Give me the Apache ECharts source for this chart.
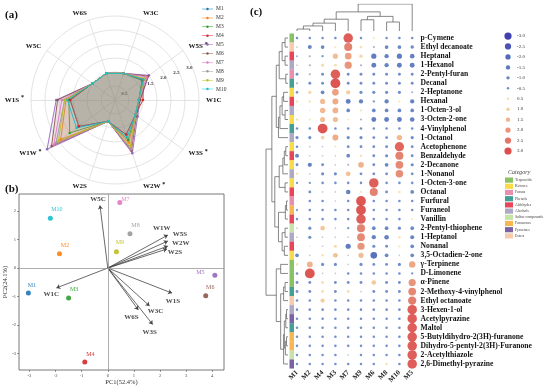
<!DOCTYPE html>
<html><head><meta charset="utf-8">
<script src="https://cdn.jsdelivr.net/npm/echarts@6/dist/echarts.min.js"></script>
<style>html,body{margin:0;padding:0;background:#fff}#c{width:550px;height:390px}</style>
</head><body><div id="c"></div>
<script>
// ---------------- DATA ----------------
const samples = ['M1','M2','M3','M4','M5','M6','M7','M8','M9','M10'];
const sampleColors = ['#1f77b4','#ff7f0e','#2ca02c','#d62728','#9467bd','#8c564b','#e377c2','#9a9a9a','#bcbd22','#17becf'];

// (a) radar
const radarIndicators = ['W1C','W5S','W3C','W6S','W5C','W1S','W1W','W2S','W2W','W3S'];
const radarSignif = [false,true,false,false,false,true,true,false,true,true];
const rM1  = [0.85,1.20,1.0,1.0,1.0,1.60,1.6,0.8,1.30,0.90];
const rM2  = [0.85,1.25,1.0,1.0,1.0,1.75,2.4,0.8,1.60,0.90];
const rM3  = [0.85,1.20,1.0,1.0,1.0,1.65,2.0,0.8,1.50,0.90];
const rM4  = [1.00,1.25,1.0,1.0,1.0,1.60,1.6,0.8,1.30,0.90];
const rM5  = [0.90,1.50,1.0,1.0,1.0,2.10,3.0,0.8,2.00,1.00];
const rM6  = [0.90,1.45,1.0,1.0,1.0,2.05,2.8,0.8,1.90,0.95];
const rM7  = [0.85,1.40,1.0,1.0,1.0,1.90,2.7,0.8,1.85,0.90];
const rM8  = [0.85,1.30,1.0,1.0,1.0,1.80,2.6,0.8,1.80,0.90];
const rM9  = [0.85,1.30,1.0,1.0,1.0,1.80,2.5,0.8,1.75,0.90];
const rM10 = [0.85,1.25,1.0,1.0,1.0,1.70,1.7,0.8,1.40,0.90];
const radarTicks = [0.5,1.5,2.0,2.5,3.0];

// (b) PCA biplot
const pc1Scores = [-3.04,-1.85,-1.50,-0.88,4.10,3.75,0.46,0.85,0.33,-2.20];
const pc2Scores = [-0.88, 0.50,-1.05,-3.30,-0.25,-0.97,2.30,1.20,0.57,1.75];
const loadNames = ['W1C','W1S','W1W','W2S','W2W','W3C','W3S','W5C','W5S','W6S'];
const loadPC1 = [-1.97, 2.46, 2.30, 2.27, 2.30, 1.60, 1.72,-0.30, 2.30, 1.17];
const loadPC2 = [-0.70,-0.88, 1.16, 0.67, 0.77,-1.33,-1.98, 2.20, 0.95,-1.47];

// (c) bubble heatmap
const heatCols = ['M1','M2','M4','M3','M7','M9','M6','M8','M10','M5'];
const compounds = ['p-Cymene','Ethyl decanoate','Heptanal','1-Hexanol','2-Pentyl-furan','Decanal','2-Heptanone','Hexanal','1-Octen-3-ol','3-Octen-2-one','4-Vinylphenol','1-Octanol','Acetophenone','Benzaldehyde','2-Decanone','1-Nonanol','1-Octen-3-one','Octanal','Furfural','Furaneol','Vanillin','2-Pentyl-thiophene','1-Heptanol','Nonanal','3,5-Octadien-2-one','γ-Terpinene','D-Limonene','α-Pinene','2-Methoxy-4-vinylphenol','Ethyl octanoate','3-Hexen-1-ol','Acetylpyrazine','Maltol','5-Butyldihydro-2(3H)-furanone','Dihydro-5-pentyl-2(3H)-Furanone','2-Acetylthiazole','2,6-Dimethyl-pyrazine'];
const compoundCat = ['Terpenoids','Esters','Aldehydes','Alcohols','Furans','Phenols','Ketones','Aldehydes','Alcohols','Ketones','Phenols','Alcohols','Ketones','Aldehydes','Ketones','Alcohols','Ketones','Aldehydes','Furans','Furanones','Aldehydes','Sulfur compounds','Alcohols','Aldehydes','Ketones','Terpenoids','Terpenoids','Terpenoids','Phenols','Esters','Alcohols','Pyrazines','Phenols','Furanones','Furanones','Sulfur compounds','Pyrazines'];
const zRows = [
 [-0.4,-0.4,-0.4,-0.4, 2.8,-0.4, 0.3,-0.4,-0.4,-0.4],
 [-0.1,-0.9,-0.8, 0.3, 2.3, 0.5,-0.2,-0.8,-0.8,-0.7],
 [-0.2,-0.2,-0.3, 1.3, 1.8, 0.7,-1.3,-1.0,-1.3,-1.1],
 [-0.1,-0.2, 0.6, 0.5, 2.0,-0.2,-1.2,-1.0,-1.2,-1.2],
 [-0.5,-0.2,-0.5, 2.8,-0.5,-0.5,-0.5,-0.5,-0.5,-0.5],
 [-0.2,-0.5,-0.5, 2.9,-0.5,-0.5,-0.5,-0.5,-0.5,-0.5],
 [-0.4, 0.7,-0.8, 1.8, 1.0,-0.6,-0.6,-0.6,-0.6,-0.2],
 [ 0.4, 0.4, 1.3, 1.6,-1.2,-1.0,-0.3,-1.0, 0.3,-1.0],
 [ 0.0, 0.0, 1.4, 1.5,-0.8, 0.3,-0.8,-0.8,-0.8,-0.8],
 [ 0.4, 0.3, 1.3, 1.3, 0.2,-0.2,-1.2,-1.2,-1.2,-1.1],
 [-0.4,-0.4, 2.9,-0.4,-0.4,-0.4,-0.4,-0.4,-0.4,-0.4],
 [-0.6,-0.6, 0.8, 1.6,-0.6,-0.6,-0.5,-0.5, 1.4,-0.6],
 [-0.4,-0.1,-0.1, 0.3,-0.5,-0.5,-0.5,-0.5, 2.7,-0.5],
 [-0.9,-0.1,-0.1,-0.1,-0.8, 0.4,-0.5,-0.6, 2.3,-0.5],
 [-0.5,-1.0,-0.5,-0.1,-0.2, 1.5,-0.5,-0.8, 2.2,-0.6],
 [ 0.4,-0.1,-0.6,-0.6, 1.2,-0.5,-0.5,-0.5, 2.1,-0.5],
 [-0.3,-0.3,-0.4,-0.4,-0.4,-0.4, 2.8,-0.4,-0.4,-0.4],
 [ 0.0,-0.5,-0.1,-0.1,-1.1, 0.3, 2.3,-0.5, 0.4,-0.8],
 [ 0.0,-0.4,-0.4,-0.1,-0.4, 2.9,-0.4,-0.4,-0.4,-0.4],
 [-0.3,-0.4,-0.4,-0.4,-0.4, 2.9,-0.4,-0.4,-0.4,-0.4],
 [-0.4,-0.4,-0.4,-0.4,-0.4, 2.8,-0.4,-0.4,-0.4, 0.3],
 [-0.1,-0.6, 1.1,-0.1,-0.3, 2.3,-0.8,-0.8,-0.6,-0.8],
 [-0.1,-0.6,-0.1,-0.1,-0.1, 2.2,-1.0,-1.1, 0.4,-0.9],
 [ 0.0, 0.0,-0.1, 0.6,-1.3, 2.0,-0.6,-0.5, 0.3,-0.8],
 [-0.8,-0.1, 0.4, 1.2,-0.1, 1.3,-1.8,-0.8,-0.1,-0.8],
 [ 0.4, 1.5,-0.6,-0.6,-0.1,-0.6,-0.5,-0.5,-0.6, 1.7],
 [-0.4, 2.9,-0.1,-0.1,-0.4,-0.4,-0.4,-0.4,-0.4,-0.3],
 [-0.5,-0.5, 0.5,-0.5,-0.5,-0.5, 1.1,-0.5,-0.5, 2.0],
 [-0.5,-0.5, 0.5,-0.5, 0.5,-0.1,-0.5,-0.5,-0.5, 2.2],
 [-0.4,-0.4, 1.0,-0.4,-0.4,-0.4,-0.4,-0.4,-0.4, 2.4],
 [-0.4,-0.4,-0.4,-0.4,-0.4,-0.4,-0.4,-0.4,-0.4, 2.8],
 [-0.4,-0.4,-0.4,-0.4,-0.4,-0.4,-0.4,-0.4,-0.4, 2.8],
 [-0.4,-0.4,-0.4,-0.4,-0.4,-0.4,-0.4,-0.4,-0.4, 2.8],
 [-0.4,-0.4,-0.4,-0.4,-0.4,-0.4,-0.4,-0.4,-0.4, 2.8],
 [-0.4,-0.4,-0.4,-0.4,-0.4,-0.4,-0.4,-0.4,-0.4, 2.8],
 [-0.4,-0.4,-0.4,-0.4,-0.1,-0.4,-0.4,-0.4,-0.4, 2.8],
 [-0.4,-0.4,-0.4,-0.4,-0.4,-0.4,-0.4, 0.4,-0.4, 2.8]
];
const sizeLegendVals = [-3.0,-2.5,-2.0,-1.5,-1.0,-0.5,0.5,1.0,1.5,2.0,2.5,3.0];
const categories = ['Terpenoids','Ketones','Furans','Phenols','Aldehydes','Alcohols','Sulfur compounds','Furanones','Pyrazines','Esters'];
// cluster trees: [left, right, height]; leaves are row / column indices
const rowTree = [
  [
    [
      [[[0,1,2],[2,3,2],4],[4,5,1.5],6],
      [[[[6,7,3],[8,9,2],4],10,5.5],11,6.5],
      8],
    [
      [[[[12,13,1.5],14,2.5],15,3.5],[16,17,2],6],
      [[[18,19,1],20,1.8],[[21,22,2],[23,24,2.5],4],6.5],
      9],
    11],
  [
    [25,26,5],
    [[[27,28,2],29,3],[[[[30,31,1],32,1.5],[[33,34,1],35,1.8],2.5],36,3],5],
    8],
  15];
const colTree = [[[[[[0,1,0.35],2,0.9],3,1.4],4,2.1],[[5,6,2.0],[7,8,1.6],2.6],3.4],9,4.8];

// ---------------- STYLE ----------------
const SERIF = '"Liberation Serif","Times New Roman",serif';
const catColors = {'Terpenoids':'#6cb33f','Ketones':'#f6d21c','Furans':'#e4739a','Phenols':'#16877c','Aldehydes':'#e2162e','Alcohols':'#9a93b6','Sulfur compounds':'#b9dc8e','Furanones':'#f5a524','Pyrazines':'#5a3b8e','Esters':'#f7be98'};
const colStops = [[-3,'#10109a'],[-2,'#2b46aa'],[-1,'#4065b3'],[-0.3,'#5479bd'],[0,'#e6e0c8'],[0.3,'#f3e4a8'],[1,'#f1c088'],[1.5,'#eca072'],[2,'#e27a5a'],[2.5,'#da5444'],[3,'#d42222']];
function hex2rgb(h){return [1,3,5].map(i=>parseInt(h.substr(i,2),16));}
function colorOf(v){
  if (v<=colStops[0][0]) return colStops[0][1];
  for (let k=1;k<colStops.length;k++){
    if (v<=colStops[k][0]){
      const [a,ca]=colStops[k-1],[b,cb]=colStops[k];
      const t=(v-a)/(b-a), A=hex2rgb(ca), B=hex2rgb(cb);
      return 'rgb('+A.map((x,i)=>Math.round(x+(B[i]-x)*t)).join(',')+')';
    }
  }
  return colStops[colStops.length-1][1];
}
const sizeOf = v => 1.4 + 2.9*Math.abs(v);

// loading label offsets (label centre relative to arrow tip, px)
const loadLabelOff = {W1C:[-5,6],W1S:[1,8],W1W:[-6,-7],W2S:[8,3],W2W:[13,-3],W3C:[6,5],W3S:[-3,8],W5C:[-2,-6],W5S:[12,-7],W6S:[-7,7]};
const scoreLabelOff = {M1:[6,-5],M2:[8,-6],M3:[8,-6],M4:[8,-5],M5:[-12,0],M6:[7,-6],M7:[8,-1],M8:[8,-6],M9:[6,-7],M10:[9,-6]};

// ---------------- BUILD ----------------
const radarVals = [rM1,rM2,rM3,rM4,rM5,rM6,rM7,rM8,rM9,rM10];

function walk(node,out){
  if (typeof node==='number') return {p:node,h:0};
  const a=walk(node[0],out), b=walk(node[1],out), H=node[2];
  out.push([[a.p,a.h],[a.p,H],[b.p,H],[b.p,b.h]]);
  return {p:(a.p+b.p)/2,h:H};
}
const rowSegs=[]; walk(rowTree,rowSegs);
const colSegs=[]; walk(colTree,colSegs);

const heatData=[];
zRows.forEach((row,j)=>row.forEach((v,i)=>heatData.push([i,j,v])));

const chart = echarts.init(document.getElementById('c'), null, {renderer:'canvas'});
const legendIcon = 'path://M0,3.5L22,3.5L22,4.5L0,4.5Z M13.5,4A2.5,2.5,0,1,1,8.5,4A2.5,2.5,0,1,1,13.5,4Z';

const option = {
  animation:false,
  backgroundColor:'#fff',
  title:[
    {text:'(a)',left:5,top:10,padding:0,textStyle:{fontFamily:SERIF,fontWeight:'bold',fontSize:11,color:'#111'}},
    {text:'(b)',left:5,top:184,padding:0,textStyle:{fontFamily:SERIF,fontWeight:'bold',fontSize:11,color:'#111'}},
    {text:'(c)',left:250,top:7,padding:0,textStyle:{fontFamily:SERIF,fontWeight:'bold',fontSize:11,color:'#111'}},
    {text:'Category',left:508,top:169,padding:0,textStyle:{fontFamily:SERIF,fontStyle:'italic',fontWeight:'normal',fontSize:6,color:'#444'}}
  ],
  legend:{
    data:samples, orient:'vertical', left:202, top:6, padding:0,
    itemWidth:11, itemHeight:5, itemGap:2.9, icon:legendIcon,
    textStyle:{fontFamily:SERIF,fontSize:5.5,color:'#333',padding:[0,0,0,-2]}
  },
  radar:{
    center:[115,100], radius:84, startAngle:0, shape:'circle', splitNumber:6,
    indicator: radarIndicators.map(n=>({name:n,min:0,max:3})),
    nameGap:7,
    axisName:{
      formatter:(name)=> radarSignif[radarIndicators.indexOf(name)] ? name+' {s|*}' : name,
      color:'#111', fontFamily:SERIF, fontWeight:'bold', fontSize:7,
      rich:{s:{fontSize:6,fontWeight:'bold',color:'#111',padding:[0,0,5,0]}}
    },
    splitLine:{lineStyle:{color:'#dcdcdc',width:0.8}},
    splitArea:{show:false},
    axisLine:{lineStyle:{color:'#dcdcdc',width:0.8}}
  },
  polar:{center:[115,100],radius:84},
  angleAxis:{type:'value',min:0,max:360,startAngle:22,show:false},
  radiusAxis:{type:'value',min:0,max:3,interval:0.5,
    axisLine:{show:false},axisTick:{show:false},splitLine:{show:false},
    axisLabel:{fontFamily:SERIF,fontWeight:'bold',fontSize:5,color:'#333',margin:1,
      formatter:v=> radarTicks.some(t=>Math.abs(t-v)<1e-6) ? v.toFixed(1) : ''}},
  grid:[
    {left:19,top:194,width:205,height:176,show:true,borderColor:'#555',borderWidth:0.8,backgroundColor:'transparent'},
    {left:290.6,top:33.5,width:128,height:335},
    {left:289.5,top:33.5,width:4.5,height:335},
    {left:266,top:33.5,width:22,height:335},
    {left:290.6,top:4,width:128,height:27},
    {left:503,top:30.8,width:10,height:125.4},
    {left:505,top:177,width:8,height:62}
  ],
  xAxis:[
    {gridIndex:0,type:'value',min:-3.4,max:4.45,splitNumber:8,
      name:'PC1(52.4%)',nameLocation:'middle',nameGap:9,
      nameTextStyle:{fontFamily:SERIF,fontSize:6.5,color:'#333'},
      axisLine:{onZero:false,show:false},axisTick:{length:2,lineStyle:{color:'#555',width:0.6}},
      splitLine:{show:false},
      axisLabel:{showMinLabel:false,showMaxLabel:false,fontFamily:SERIF,fontSize:4.5,color:'#444',margin:3}},
    {gridIndex:1,type:'category',data:heatCols,boundaryGap:true,
      axisLine:{show:false},axisTick:{show:false},
      axisLabel:{rotate:45,interval:0,fontFamily:SERIF,fontWeight:'bold',fontSize:7,color:'#222',margin:3}},
    {gridIndex:2,type:'category',data:['cat'],show:false},
    {gridIndex:3,type:'value',min:0,max:15,inverse:true,show:false},
    {gridIndex:4,type:'value',min:-0.5,max:9.5,show:false},
    {gridIndex:5,type:'category',data:['s'],show:false},
    {gridIndex:6,type:'category',data:['c'],show:false}
  ],
  yAxis:[
    {gridIndex:0,type:'value',min:-3.58,max:2.6,splitNumber:6,
      name:'PC2(24.1%)',nameLocation:'middle',nameGap:9,nameRotate:90,
      nameTextStyle:{fontFamily:SERIF,fontSize:6.5,color:'#333'},
      axisLine:{onZero:false,show:false},axisTick:{length:2,lineStyle:{color:'#555',width:0.6}},
      splitLine:{show:false},
      axisLabel:{showMinLabel:false,showMaxLabel:false,fontFamily:SERIF,fontSize:4.5,color:'#444',margin:3}},
    {gridIndex:1,type:'category',data:compounds,inverse:true,position:'right',
      axisLine:{show:false},axisTick:{show:false},
      axisLabel:{fontFamily:SERIF,fontWeight:'bold',fontSize:7.6,color:'#111',margin:2,interval:0}},
    {gridIndex:2,type:'category',data:compounds,inverse:true,show:false},
    {gridIndex:3,type:'value',min:-0.5,max:36.5,inverse:true,show:false},
    {gridIndex:4,type:'value',min:0,max:4.8,show:false},
    {gridIndex:5,type:'category',data:sizeLegendVals.map(v=>v.toFixed(1)),inverse:true,position:'right',
      axisLine:{show:false},axisTick:{show:false},
      axisLabel:{fontFamily:SERIF,fontSize:5,color:'#333',margin:4,interval:0}},
    {gridIndex:6,type:'category',data:categories,inverse:true,position:'right',
      axisLine:{show:false},axisTick:{show:false},
      axisLabel:{fontFamily:SERIF,fontSize:3.8,color:'#444',margin:2,interval:0}}
  ],
  series:[
    {type:'radar',symbol:'circle',symbolSize:2.5,z:3,
      data: samples.map((s,i)=>({name:s,value:radarVals[i],
        lineStyle:{color:sampleColors[i],width:0.9},itemStyle:{color:sampleColors[i]},
        areaStyle:{color:sampleColors[i],opacity:0.09}}))},
    // PCA loading arrows
    {type:'lines',coordinateSystem:'cartesian2d',xAxisIndex:0,yAxisIndex:0,
      symbol:['none','arrow'],symbolSize:4,silent:true,
      lineStyle:{color:'#444',width:0.8,opacity:1},
      data: loadNames.map((n,i)=>({coords:[[0,0],[loadPC1[i],loadPC2[i]]]}))},
    // loading labels
    {type:'scatter',xAxisIndex:0,yAxisIndex:0,symbolSize:0,silent:true,
      data: loadNames.map((n,i)=>({name:n,value:[loadPC1[i],loadPC2[i]],
        label:{show:true,formatter:n,position:loadLabelOff[n],align:'center',verticalAlign:'middle',
          fontFamily:SERIF,fontWeight:'bold',fontSize:7,color:'#111'}}))},
    // PCA scores
    {type:'scatter',xAxisIndex:0,yAxisIndex:0,symbolSize:5,z:4,
      data: samples.map((s,i)=>({name:s,value:[pc1Scores[i],pc2Scores[i]],
        itemStyle:{color:sampleColors[i],opacity:0.9},
        label:{show:true,formatter:s,position:scoreLabelOff[s],align:'center',verticalAlign:'middle',
          fontFamily:SERIF,fontSize:6,color:sampleColors[i]}})),
      markLine:{silent:true,symbol:['none','none'],label:{show:false},
        lineStyle:{color:'#999',width:0.8,type:'solid'},
        data:[{xAxis:0},{yAxis:0}]}},
    // bubble heatmap
    {type:'scatter',xAxisIndex:1,yAxisIndex:1,
      data:heatData,
      symbolSize:(d)=>sizeOf(d[2]),
      itemStyle:{color:(p)=>colorOf(p.value[2])}},
    // category strip
    {type:'scatter',xAxisIndex:2,yAxisIndex:2,symbol:'rect',symbolSize:[4.5,9.1],
      data: compoundCat.map((c,j)=>({value:[0,j],itemStyle:{color:catColors[c]}}))},
    // row dendrogram
    {type:'lines',coordinateSystem:'cartesian2d',xAxisIndex:3,yAxisIndex:3,polyline:true,silent:true,
      lineStyle:{color:'#555',width:0.7,opacity:1},
      data: rowSegs.map(s=>({coords:s.map(([p,h])=>[h,p])}))},
    // column dendrogram
    {type:'lines',coordinateSystem:'cartesian2d',xAxisIndex:4,yAxisIndex:4,polyline:true,silent:true,
      lineStyle:{color:'#555',width:0.7,opacity:1},
      data: colSegs.map(s=>({coords:s}))},
    // size legend
    {type:'scatter',xAxisIndex:5,yAxisIndex:5,
      data: sizeLegendVals.map((v,i)=>[0,i,v]),
      symbolSize:(d)=>1.5+1.9*Math.abs(d[2]),
      itemStyle:{color:(p)=>colorOf(p.value[2])}},
    // category legend
    {type:'scatter',xAxisIndex:6,yAxisIndex:6,symbol:'rect',symbolSize:[8,5.2],
      data: categories.map((c,i)=>({value:[0,i],itemStyle:{color:catColors[c]}}))}
  ]
};
chart.setOption(option);
</script></body></html>
